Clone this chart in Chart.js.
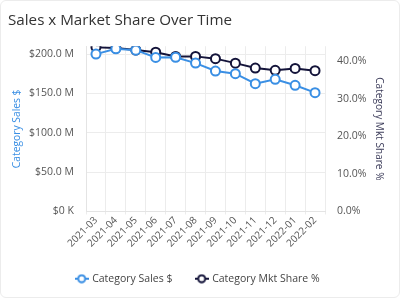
<!DOCTYPE html>
<html>
<head>
<meta charset="utf-8">
<script src="https://cdn.jsdelivr.net/npm/chart.js@4"></script>
<style>
  html, body { margin: 0; padding: 0; background: #fff; }
  .card { position: absolute; left: 0; top: 0; width: 398px; height: 296px; border: 1px solid #ececec; border-radius: 6px; }
  #wrap { position: absolute; left: 0; top: 0; width: 400px; height: 298px; }
</style>
</head>
<body>
<div class="card"></div>
<div id="wrap"><canvas id="chart" width="400" height="298"></canvas></div>
<script>
const months = ['2021-03', '2021-04', '2021-05', '2021-06', '2021-07', '2021-08',
                '2021-09', '2021-10', '2021-11', '2021-12', '2022-01', '2022-02'];
// sales in millions of dollars
const salesM = [200, 206.7, 205, 195.8, 196, 188.6, 178.5, 175.1, 162.4, 168, 160.4, 151];
// market share in percent
const sharePct = [43.7, 43.5, 43.0, 42.4, 41.3, 41.3, 40.7, 39.5, 38.2, 37.6, 38.1, 37.5];
const salesTicks = [0, 50, 100, 150, 200];
const shareTicks = [0, 10, 20, 30, 40];

const blue = '#3a8fe4';
const navy = '#14143a';

function legendIcon(color) {
    const c = document.createElement('canvas');
    c.width = 14; c.height = 10;
    const g = c.getContext('2d');
    g.strokeStyle = color;
    g.lineWidth = 2;
    g.beginPath(); g.moveTo(0, 5); g.lineTo(14, 5); g.stroke();
    g.beginPath(); g.arc(7, 5, 3.5, 0, Math.PI * 2);
    g.fillStyle = '#fff'; g.fill(); g.stroke();
    return c;
}

function keepTicks(list) {
    return axis => { axis.ticks = list.map(v => ({ value: v })); };
}

Chart.defaults.font.family = '"Open Sans", sans-serif';
Chart.defaults.color = '#555';

new Chart(document.getElementById('chart'), {
    type: 'line',
    data: {
        labels: months,
        datasets: [{
            label: 'Category Sales $',
            data: salesM,
            yAxisID: 'y',
            borderColor: blue,
            backgroundColor: '#fff',
            borderWidth: 2,
            pointRadius: 4.5,
            pointBorderWidth: 2,
            tension: 0
        }, {
            label: 'Category Mkt Share %',
            data: sharePct,
            yAxisID: 'y1',
            borderColor: navy,
            backgroundColor: '#fff',
            borderWidth: 2,
            pointRadius: 4.5,
            pointBorderWidth: 2,
            tension: 0
        }]
    },
    options: {
        responsive: false,
        animation: false,
        layout: { padding: { left: 8, right: 12, top: 0, bottom: 4 } },
        scales: {
            x: {
                offset: true,
                grid: { offset: true, color: '#ececec', tickLength: 3 },
                border: { color: '#e4e4e4' },
                ticks: { autoSkip: false, maxRotation: 45, minRotation: 45, font: { size: 10 }, color: '#555', padding: 0 }
            },
            y: {
                position: 'left',
                min: 0, max: 210,
                afterBuildTicks: keepTicks(salesTicks),
                afterFit: s => { s.width = 78; },
                grid: { color: '#ececec', drawTicks: false },
                border: { color: '#e4e4e4' },
                ticks: {
                    font: { size: 10.5 }, color: '#555', padding: 12,
                    callback: v => v === 0 ? '$0 K' : '$' + v.toFixed(1) + ' M'
                },
                title: { display: true, text: 'Category Sales $', color: blue, font: { size: 10.3 }, padding: 3 }
            },
            y1: {
                position: 'right',
                min: 0, max: 44,
                afterBuildTicks: keepTicks(shareTicks),
                afterFit: s => { s.width = 63; },
                grid: { display: false, drawTicks: false },
                border: { display: false },
                ticks: {
                    font: { size: 10.5 }, color: '#555', padding: 12,
                    callback: v => v.toFixed(1) + '%'
                },
                title: { display: true, text: 'Category Mkt Share %', color: '#3c3c5a', font: { size: 10.1 }, padding: 3 }
            }
        },
        plugins: {
            title: {
                display: true, text: 'Sales x Market Share Over Time', align: 'start',
                color: '#333', font: { size: 15.2, weight: 'normal' },
                padding: { top: 12, bottom: 16 }
            },
            legend: {
                position: 'bottom',
                labels: {
                    usePointStyle: true,
                    color: '#444',
                    font: { size: 10.5 },
                    padding: 24,
                    generateLabels: chart => chart.data.datasets.map((ds, i) => ({
                        text: ds.label,
                        pointStyle: legendIcon(ds.borderColor),
                        datasetIndex: i,
                        fontColor: '#444',
                        lineWidth: 0,
                        strokeStyle: 'transparent',
                        fillStyle: 'transparent'
                    }))
                }
            },
            tooltip: { enabled: false }
        }
    }
});
</script>
</body>
</html>
